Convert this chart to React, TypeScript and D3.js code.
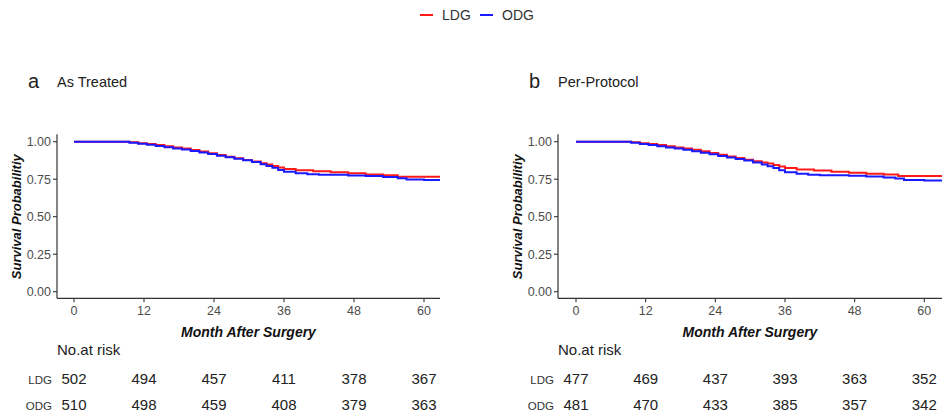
import React from "react";
import * as d3 from "d3";

const groups = ["LDG", "ODG"];
const groupColors = ["#ff1a1a", "#1a1aff"];
const xTicks = [0, 12, 24, 36, 48, 60];
const yTicks = [0, 0.25, 0.5, 0.75, 1];

// Panel a: As Treated
const timesA_LDG = [0, 9.5, 11, 12.5, 14, 15.5, 17, 18.5, 20, 21.5, 23, 24.5, 26, 27.5, 29, 30.5, 32, 33, 34, 35, 36, 38, 41, 44, 47, 50, 53, 55.5];
const survA_LDG = [1.0, 0.997, 0.99, 0.985, 0.978, 0.97, 0.962, 0.954, 0.945, 0.935, 0.923, 0.912, 0.9, 0.89, 0.878, 0.868, 0.857, 0.848, 0.838, 0.828, 0.818, 0.81, 0.803, 0.797, 0.789, 0.782, 0.776, 0.767];
const timesA_ODG = [0, 9.5, 11, 12.5, 14, 15.5, 17, 18.5, 20, 21.5, 23, 24.5, 26, 27.5, 29, 30.5, 32, 33, 34, 35, 36, 38, 40, 42, 47, 50, 53, 55.5, 57, 60];
const survA_ODG = [1.0, 0.993, 0.986, 0.979, 0.972, 0.963, 0.955, 0.948, 0.938, 0.928, 0.918, 0.907, 0.897, 0.886, 0.877, 0.865, 0.85, 0.838, 0.826, 0.812, 0.8, 0.79, 0.783, 0.779, 0.775, 0.771, 0.765, 0.756, 0.748, 0.745];
const riskA_LDG = [502, 494, 457, 411, 378, 367];
const riskA_ODG = [510, 498, 459, 408, 379, 363];

// Panel b: Per-Protocol
const timesB_LDG = [0, 9.5, 11, 12.5, 14, 15.5, 17, 18.5, 20, 21.5, 23, 24.5, 26, 27.5, 29, 30.5, 32, 33, 34, 35, 36, 38, 41, 44, 47, 50, 53, 55.5];
const survB_LDG = [1.0, 0.997, 0.99, 0.985, 0.978, 0.97, 0.962, 0.954, 0.946, 0.936, 0.925, 0.913, 0.902, 0.891, 0.88, 0.87, 0.862, 0.855, 0.845, 0.834, 0.824, 0.815, 0.808, 0.8, 0.793, 0.787, 0.781, 0.771];
const timesB_ODG = [0, 9.5, 11, 12.5, 14, 15.5, 17, 18.5, 20, 21.5, 23, 24.5, 26, 27.5, 29, 30.5, 32, 33, 34, 35, 36, 38, 40, 42, 47, 50, 53, 55, 56.5, 60];
const survB_ODG = [1.0, 0.993, 0.985, 0.978, 0.97, 0.962, 0.954, 0.946, 0.937, 0.927, 0.916, 0.905, 0.895, 0.885, 0.875, 0.862, 0.848, 0.836, 0.824, 0.81, 0.797, 0.787, 0.78, 0.776, 0.773, 0.768, 0.762, 0.755, 0.745, 0.742];
const riskB_LDG = [477, 469, 437, 393, 363, 352];
const riskB_ODG = [481, 470, 433, 385, 357, 342];

const FONT = "'Liberation Sans', Arial, Helvetica, sans-serif";

type PanelProps = {
  letter: string;
  title: string;
  axisX: number;
  x0: number;
  x60: number;
  xEnd: number;
  curves: { times: number[]; surv: number[] }[];
  risks: number[][];
};

function Panel({ letter, title, axisX, x0, x60, xEnd, curves, risks }: PanelProps) {
  const x = d3.scaleLinear().domain([0, 60]).range([x0, x60]);
  const y = d3.scaleLinear().domain([0, 1]).range([291.7, 141.7]);
  const axisY = 298.3;
  const axisTop = 134.3;
  const tMax = x.invert(xEnd);
  const line = d3
    .line<[number, number]>()
    .x((d) => x(d[0]))
    .y((d) => y(d[1]))
    .curve(d3.curveStepAfter);
  const fmt = d3.format(".2f");
  return (
    <g fontFamily={FONT}>
      <text x={axisX - 29} y={88} fontSize={20} fill="#222">{letter}</text>
      <text x={axisX} y={87} fontSize={14.5} fill="#222">{title}</text>
      {curves.map((c, i) => {
        const pts: [number, number][] = c.times.map((t, j) => [t, c.surv[j]]);
        pts.push([tMax, c.surv[c.surv.length - 1]]);
        return (
          <path key={i} d={line(pts) || ""} fill="none" stroke={groupColors[i]} strokeWidth={2} />
        );
      })}
      <line x1={axisX} x2={axisX} y1={axisTop} y2={axisY} stroke="#333" strokeWidth={1.2} />
      <line x1={axisX} x2={xEnd} y1={axisY} y2={axisY} stroke="#333" strokeWidth={1.2} />
      {yTicks.map((t) => (
        <g key={t}>
          <line x1={axisX - 4} x2={axisX} y1={y(t)} y2={y(t)} stroke="#333" strokeWidth={1.1} />
          <text x={axisX - 6} y={y(t)} dy="0.35em" textAnchor="end" fontSize={12.5} fill="#4d4d4d">
            {fmt(t)}
          </text>
        </g>
      ))}
      {xTicks.map((t) => (
        <g key={t}>
          <line x1={x(t)} x2={x(t)} y1={axisY} y2={axisY + 4} stroke="#333" strokeWidth={1.1} />
          <text x={x(t)} y={315} textAnchor="middle" fontSize={12.5} fill="#4d4d4d">{t}</text>
        </g>
      ))}
      <text
        transform={`translate(${axisX - 36},${(y(0) + y(1)) / 2}) rotate(-90)`}
        textAnchor="middle"
        fontSize={13}
        fontWeight="bold"
        fontStyle="italic"
        fill="#111"
      >
        Survival Probabilitiy
      </text>
      <text
        x={(axisX + xEnd) / 2 + 0}
        y={337}
        textAnchor="middle"
        fontSize={14}
        fontWeight="bold"
        fontStyle="italic"
        fill="#111"
      >
        Month After Surgery
      </text>
      <text x={axisX} y={355} fontSize={15} fill="#222">No.at risk</text>
      {risks.map((row, i) => (
        <g key={i}>
          <text x={x0 - 22} y={384 + i * 26} textAnchor="end" fontSize={11.5} fill="#333">
            {groups[i]}
          </text>
          {row.map((v, j) => (
            <text key={j} x={x(xTicks[j])} y={384 + i * 26} textAnchor="middle" fontSize={15} fill="#222">
              {v}
            </text>
          ))}
        </g>
      ))}
    </g>
  );
}

export default function App() {
  return (
    <svg
      width={944}
      height={419}
      style={{ position: "absolute", left: 0, top: 0, background: "#fff" }}
    >
      <rect width={944} height={419} fill="#fff" />
      <g fontFamily={FONT}>
        {groups.map((g, i) => {
          const lx = 420 + i * 60;
          return (
            <g key={g}>
              <line x1={lx} x2={lx + 13} y1={15} y2={15} stroke={groupColors[i]} strokeWidth={2} />
              <text x={lx + 22} y={20} fontSize={14} fill="#333">{g}</text>
            </g>
          );
        })}
      </g>
      <Panel
        letter="a"
        title="As Treated"
        axisX={57}
        x0={74}
        x60={424}
        xEnd={440}
        curves={[
          { times: timesA_LDG, surv: survA_LDG },
          { times: timesA_ODG, surv: survA_ODG },
        ]}
        risks={[riskA_LDG, riskA_ODG]}
      />
      <Panel
        letter="b"
        title="Per-Protocol"
        axisX={558}
        x0={576}
        x60={924.3}
        xEnd={942}
        curves={[
          { times: timesB_LDG, surv: survB_LDG },
          { times: timesB_ODG, surv: survB_ODG },
        ]}
        risks={[riskB_LDG, riskB_ODG]}
      />
    </svg>
  );
}
